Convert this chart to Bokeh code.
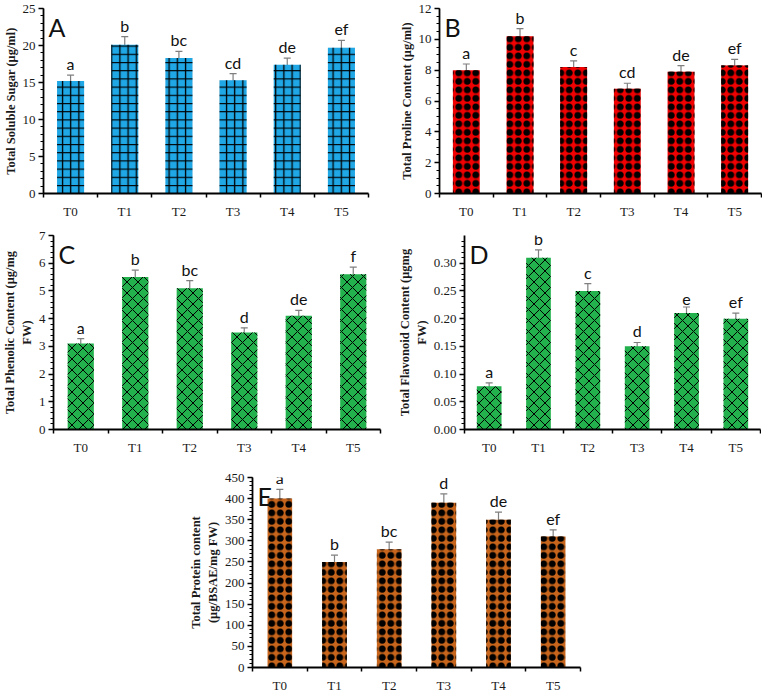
from bokeh.plotting import figure
from bokeh.models import (ColumnDataSource, Whisker, Label, FixedTicker,
                          SingleIntervalTicker, Range1d, Spacer, TeeHead,
                          PrintfTickFormatter)
from bokeh.layouts import row, column
from bokeh.embed import file_html
from bokeh.resources import INLINE
from bokeh.core.properties import value

treatments = ["T0", "T1", "T2", "T3", "T4", "T5"]

sugar = [15.2, 20.1, 18.3, 15.3, 17.4, 19.7]
sugar_err = [0.8, 1.1, 0.9, 0.9, 0.9, 1.0]
sugar_letters = ["a", "b", "bc", "cd", "de", "ef"]

proline = [8.0, 10.2, 8.2, 6.8, 7.9, 8.3]
proline_err = [0.4, 0.5, 0.4, 0.35, 0.4, 0.4]
proline_letters = ["a", "b", "c", "cd", "de", "ef"]

phenolic = [3.1, 5.5, 5.1, 3.5, 4.1, 5.6]
phenolic_err = [0.18, 0.25, 0.27, 0.17, 0.2, 0.26]
phenolic_letters = ["a", "b", "bc", "d", "de", "f"]

flavonoid = [0.078, 0.31, 0.25, 0.15, 0.21, 0.20]
flavonoid_err = [0.006, 0.014, 0.013, 0.007, 0.011, 0.010]
flavonoid_letters = ["a", "b", "c", "d", "e", "ef"]

protein = [400, 250, 280, 390, 350, 310]
protein_err = [22, 16, 17, 21, 18, 16]
protein_letters = ["a", "b", "bc", "d", "de", "ef"]

SERIF = "Liberation Serif"
SANS = "Lato"


def panel(vals, errs, letters, ylabel, ymax, interval, minor, fmt, fill,
          hatches, tag, fw, fh, bl, br, bt, bb, bar_w=0.5):
    n = len(treatments)
    xs = [i + 0.5 for i in range(n)]
    src = ColumnDataSource(dict(
        x=xs, top=vals,
        upper=[v + e for v, e in zip(vals, errs)],
        lower=[v - e for v, e in zip(vals, errs)],
        letters=letters))
    p = figure(frame_width=fw, frame_height=fh, x_range=Range1d(0, n),
               y_range=Range1d(0, ymax), output_backend="svg",
               toolbar_location=None, min_border_left=bl, min_border_right=br,
               min_border_top=bt, min_border_bottom=bb)
    p.outline_line_color = None
    p.xgrid.grid_line_color = None
    p.ygrid.grid_line_color = None
    p.background_fill_color = "white"
    p.border_fill_color = "white"

    first = True
    for pat, sc, wt in hatches:
        p.vbar(x="x", top="top", bottom=0, width=bar_w, source=src,
               fill_color=fill if first else None, line_color=None,
               hatch_pattern=pat, hatch_color="black", hatch_scale=sc,
               hatch_weight=wt)
        first = False

    wh = Whisker(source=src, base="x", upper="upper", lower="lower",
                 line_color="#7f7f7f", line_width=1.2,
                 upper_head=TeeHead(size=7, line_color="#7f7f7f", line_width=1.2),
                 lower_head=TeeHead(size=7, line_color="#7f7f7f", line_width=1.2))
    p.add_layout(wh)

    p.text(x="x", y="upper", text="letters", source=src,
           text_font=value(SANS), text_font_size="16px", text_color="#111111",
           text_align="center", text_baseline="bottom", y_offset=-2)

    p.add_layout(Label(x=0, y=ymax, text=tag, x_offset=5, y_offset=-3,
                       text_baseline="top", text_align="left",
                       text_font=SANS, text_font_size="25px",
                       text_color="#111111"))

    xa = p.xaxis[0]
    xa.ticker = FixedTicker(ticks=xs, minor_ticks=list(range(n + 1)))
    xa.major_label_overrides = {x: t for x, t in zip(xs, treatments)}
    xa.major_tick_out = 0
    xa.major_tick_in = 0
    xa.minor_tick_out = 4
    xa.minor_tick_in = 0
    xa.minor_tick_line_color = "black"
    xa.minor_tick_line_width = 1.5
    xa.axis_line_color = "black"
    xa.axis_line_width = 1.8
    xa.major_label_standoff = 6
    xa.major_label_text_font = SERIF
    xa.major_label_text_font_size = "13px"
    xa.major_label_text_color = "#1a1a1a"

    ya = p.yaxis[0]
    ya.ticker = SingleIntervalTicker(interval=interval, num_minor_ticks=minor)
    if fmt:
        ya.formatter = PrintfTickFormatter(format=fmt)
    ya.axis_line_color = "black"
    ya.axis_line_width = 1.8
    ya.major_tick_out = 5
    ya.major_tick_in = 0
    ya.minor_tick_out = 3
    ya.minor_tick_in = 0
    ya.major_tick_line_color = "black"
    ya.major_tick_line_width = 1.3
    ya.minor_tick_line_color = "black"
    ya.minor_tick_line_width = 1.2
    ya.major_label_standoff = 3
    ya.major_label_text_font = SERIF
    ya.major_label_text_font_size = "13px"
    ya.major_label_text_color = "#1a1a1a"
    ya.axis_label = ylabel
    ya.axis_label_standoff = 2
    ya.axis_label_text_font = SERIF
    ya.axis_label_text_font_style = "bold"
    ya.axis_label_text_font_size = "12.5px"
    ya.axis_label_text_color = "#1a1a1a"
    return p


DOTS = [("o", 8.5, 2.6), (".", 8.5, 1.0)]
BRICK = [("x", 11, 1.0)]

pA = panel(sugar, sugar_err, sugar_letters, "Total Soluble Sugar (μg/ml)",
           25, 5, 5, None, "#1FA7E6", [("+", 8.2, 1.3)], "A",
           325, 185, 33, 18, 8, 27)
pB = panel(proline, proline_err, proline_letters, "Total Proline Content (μg/ml)",
           12, 2, 4, None, "#F00000", DOTS, "B",
           322, 185, 53, 1, 8, 27)
pC = panel(phenolic, phenolic_err, phenolic_letters,
           "Total Phenolic Content (μg/mg\nFW)",
           7, 1, 5, None, "#22B14C", BRICK, "C",
           327, 194, 44, 5, 14, 22, 0.48)
pD = panel(flavonoid, flavonoid_err, flavonoid_letters,
           "Total Flavonoid Content (μgmg\nFW)",
           0.35, 0.05, 5, "%.2f", "#22B14C", BRICK, "D",
           296, 194, 79, 1, 14, 22)
pE = panel(protein, protein_err, protein_letters,
           "Total Protein content\n(μg/BSAE/mg FW)",
           450, 50, 5, None, "#C8651C", DOTS, "E",
           328, 190, 70, 10, 20, 22, 0.45)

layout = column(row(pA, pB), row(pC, pD), row(Spacer(width=182, height=10), pE))

open("out.html", "w").write(file_html(layout, INLINE))
